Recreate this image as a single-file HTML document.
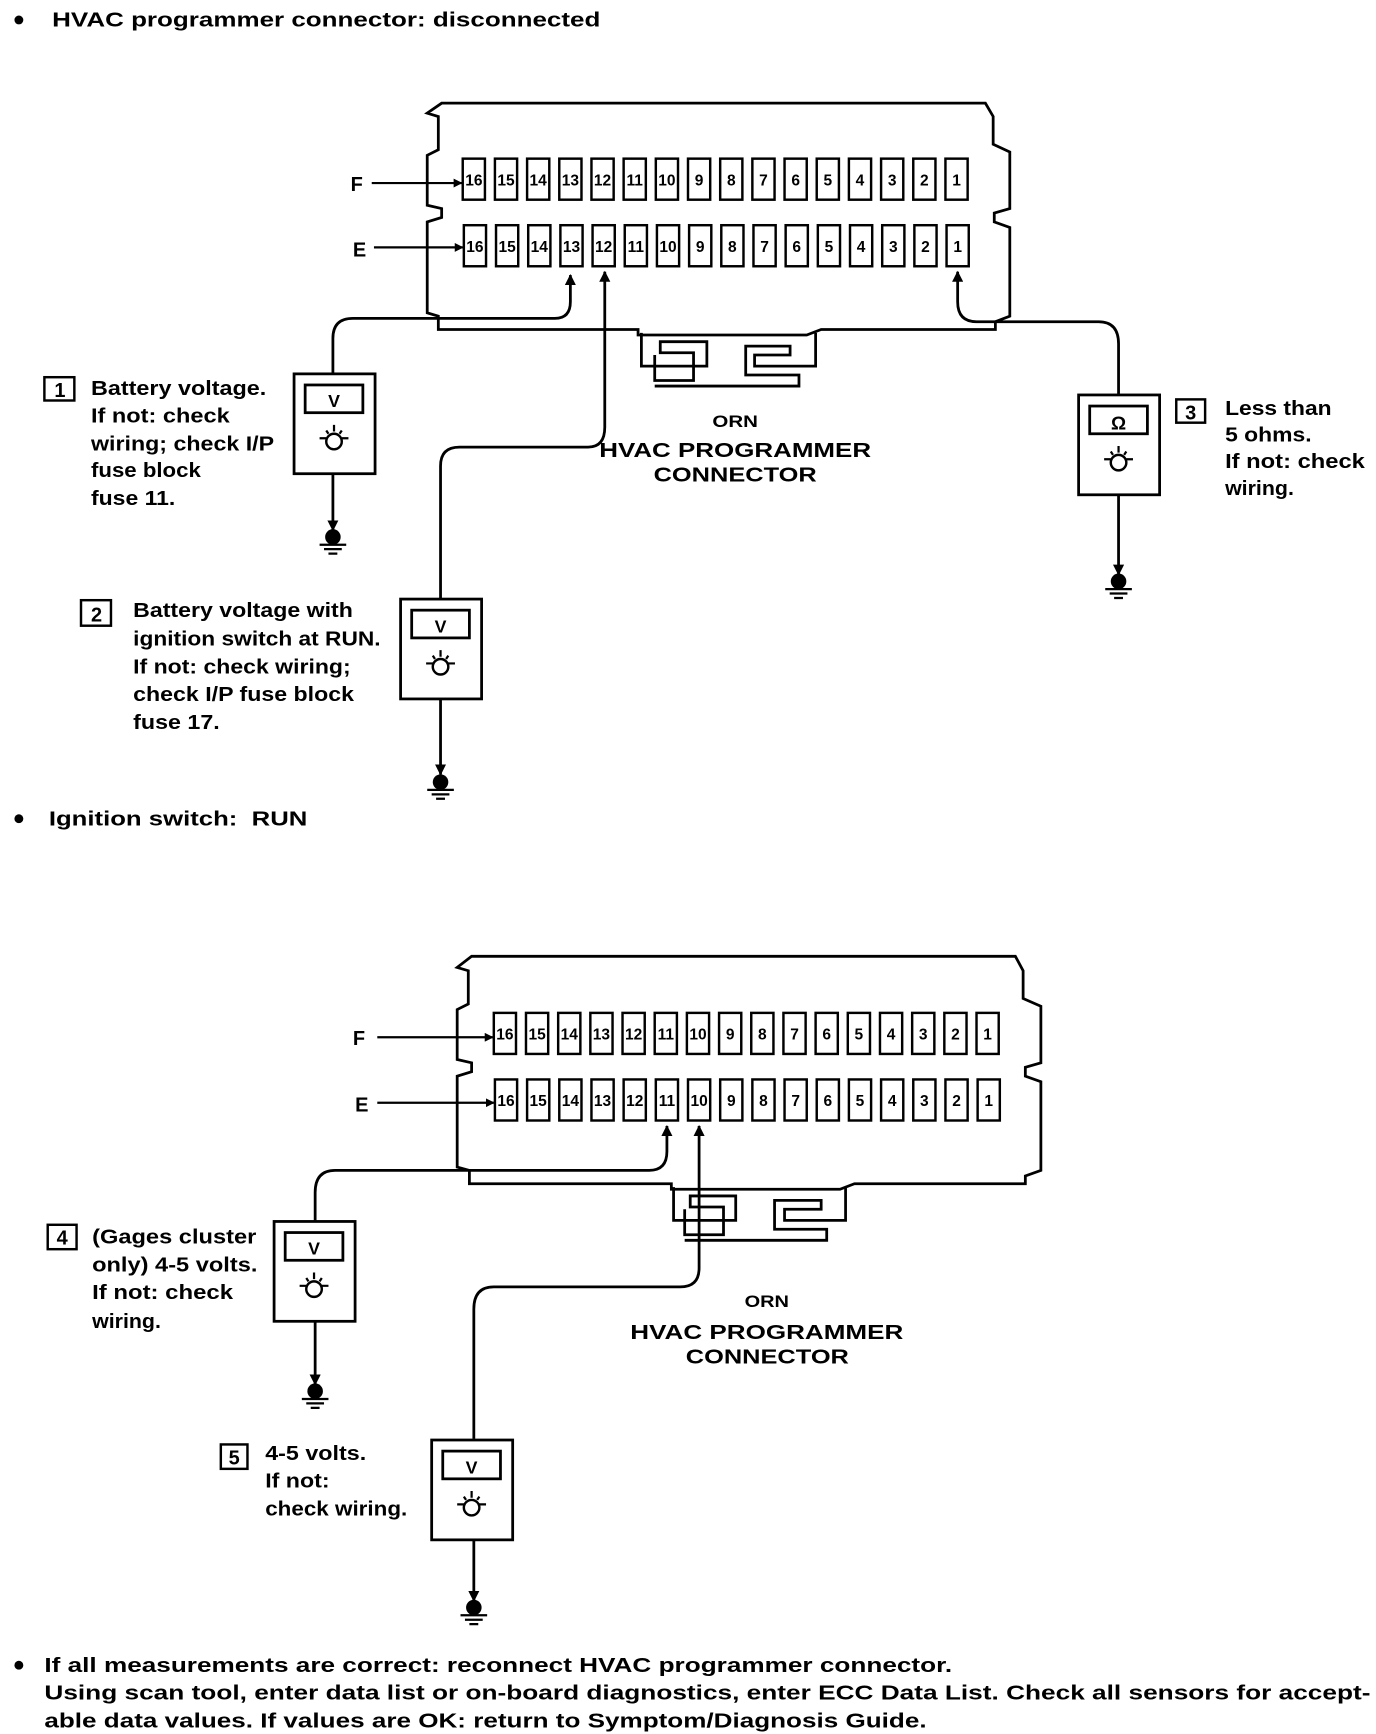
<!DOCTYPE html>
<html><head><meta charset="utf-8"><style>
html,body{margin:0;padding:0;background:#fff}
svg{display:block}
text{font-family:"Liberation Sans",sans-serif;font-weight:bold;fill:#000}
.t{font-size:18px}
.p{font-size:14px;text-anchor:middle}
.c{text-anchor:middle}
</style></head><body>
<svg width="1376" height="1734" viewBox="0 0 1240 1563" preserveAspectRatio="none" xmlns="http://www.w3.org/2000/svg">
<defs>
<marker id="ah" viewBox="0 0 10 10" refX="9" refY="5" markerWidth="4" markerHeight="4" orient="auto"><path d="M0,0 L10,5 L0,10 z" fill="#000"/></marker>
<g id="meter">
<rect x="0" y="0" width="73" height="90" fill="#fff" stroke="#000" stroke-width="2.5"/>
<rect x="10" y="10" width="52" height="25" fill="none" stroke="#000" stroke-width="2.5"/>
<circle cx="36" cy="61" r="7" fill="none" stroke="#000" stroke-width="2.2"/>
<path d="M23,58 H29 M43,58 H49 M36,46 V52 M29,51 L31,54 M43,51 L41,54" stroke="#000" stroke-width="2"/>
</g>
<g id="gnd">
<circle cx="0" cy="0" r="7" fill="#000"/>
<path d="M-12,7 H12 M-8,11 H8 M-4,15 H4" stroke="#000" stroke-width="2"/>
</g>
</defs>

<g fill="none" stroke="#000" stroke-width="2.5">
<path d="M398,93 H888 L895,105 V130 L910,137 V188 L896,192 V200 L910,205 V285 L897,290 V297 H740 L727,302 H575 V297 H395 V285 L385,282 V200 L398,196 V188 L385,185 V140 L395,135 V105 L385,102 Z"/>
<path d="M578,300 V330 H637 V308 H595 V318 H625 V343 H590 V320"/>
<path d="M735,300 V330 H680 V320 H712 V312 H672 V338 H720 V348 H590"/>
<path d="M425,862 H915 L922,875 V900 L938,907 V958 L924,962 V970 L938,975 V1055 L924,1060 V1067 H770 L757,1072 H605 V1067 H423 V1055 L412,1052 V970 L425,966 V958 L412,955 V910 L422,905 V875 L412,872 Z"/>
<path d="M607,1070 V1100 H663 V1078 H622 V1088 H652 V1113 H617 V1090"/>
<path d="M762,1070 V1100 H707 V1090 H740 V1082 H698 V1108 H745 V1118 H617"/>
</g>

<g fill="#fff" stroke="#000" stroke-width="2.2">
<rect x="417" y="143" width="20" height="37"/><rect x="446" y="143" width="20" height="37"/><rect x="475" y="143" width="20" height="37"/><rect x="504" y="143" width="20" height="37"/><rect x="533" y="143" width="20" height="37"/><rect x="562" y="143" width="20" height="37"/><rect x="591" y="143" width="20" height="37"/><rect x="620" y="143" width="20" height="37"/><rect x="649" y="143" width="20" height="37"/><rect x="678" y="143" width="20" height="37"/><rect x="707" y="143" width="20" height="37"/><rect x="736" y="143" width="20" height="37"/><rect x="765" y="143" width="20" height="37"/><rect x="794" y="143" width="20" height="37"/><rect x="823" y="143" width="20" height="37"/><rect x="852" y="143" width="20" height="37"/>
<rect x="418" y="203" width="20" height="37"/><rect x="447" y="203" width="20" height="37"/><rect x="476" y="203" width="20" height="37"/><rect x="505" y="203" width="20" height="37"/><rect x="534" y="203" width="20" height="37"/><rect x="563" y="203" width="20" height="37"/><rect x="592" y="203" width="20" height="37"/><rect x="621" y="203" width="20" height="37"/><rect x="650" y="203" width="20" height="37"/><rect x="679" y="203" width="20" height="37"/><rect x="708" y="203" width="20" height="37"/><rect x="737" y="203" width="20" height="37"/><rect x="766" y="203" width="20" height="37"/><rect x="795" y="203" width="20" height="37"/><rect x="824" y="203" width="20" height="37"/><rect x="853" y="203" width="20" height="37"/>
<rect x="445" y="913" width="20" height="37"/><rect x="474" y="913" width="20" height="37"/><rect x="503" y="913" width="20" height="37"/><rect x="532" y="913" width="20" height="37"/><rect x="561" y="913" width="20" height="37"/><rect x="590" y="913" width="20" height="37"/><rect x="619" y="913" width="20" height="37"/><rect x="648" y="913" width="20" height="37"/><rect x="677" y="913" width="20" height="37"/><rect x="706" y="913" width="20" height="37"/><rect x="735" y="913" width="20" height="37"/><rect x="764" y="913" width="20" height="37"/><rect x="793" y="913" width="20" height="37"/><rect x="822" y="913" width="20" height="37"/><rect x="851" y="913" width="20" height="37"/><rect x="880" y="913" width="20" height="37"/>
<rect x="446" y="973" width="20" height="37"/><rect x="475" y="973" width="20" height="37"/><rect x="504" y="973" width="20" height="37"/><rect x="533" y="973" width="20" height="37"/><rect x="562" y="973" width="20" height="37"/><rect x="591" y="973" width="20" height="37"/><rect x="620" y="973" width="20" height="37"/><rect x="649" y="973" width="20" height="37"/><rect x="678" y="973" width="20" height="37"/><rect x="707" y="973" width="20" height="37"/><rect x="736" y="973" width="20" height="37"/><rect x="765" y="973" width="20" height="37"/><rect x="794" y="973" width="20" height="37"/><rect x="823" y="973" width="20" height="37"/><rect x="852" y="973" width="20" height="37"/><rect x="881" y="973" width="20" height="37"/>
</g>
<g class="p">
<text class="p" x="427" y="167">16</text><text class="p" x="456" y="167">15</text><text class="p" x="485" y="167">14</text><text class="p" x="514" y="167">13</text><text class="p" x="543" y="167">12</text><text class="p" x="572" y="167">11</text><text class="p" x="601" y="167">10</text><text class="p" x="630" y="167">9</text><text class="p" x="659" y="167">8</text><text class="p" x="688" y="167">7</text><text class="p" x="717" y="167">6</text><text class="p" x="746" y="167">5</text><text class="p" x="775" y="167">4</text><text class="p" x="804" y="167">3</text><text class="p" x="833" y="167">2</text><text class="p" x="862" y="167">1</text>
<text class="p" x="428" y="227">16</text><text class="p" x="457" y="227">15</text><text class="p" x="486" y="227">14</text><text class="p" x="515" y="227">13</text><text class="p" x="544" y="227">12</text><text class="p" x="573" y="227">11</text><text class="p" x="602" y="227">10</text><text class="p" x="631" y="227">9</text><text class="p" x="660" y="227">8</text><text class="p" x="689" y="227">7</text><text class="p" x="718" y="227">6</text><text class="p" x="747" y="227">5</text><text class="p" x="776" y="227">4</text><text class="p" x="805" y="227">3</text><text class="p" x="834" y="227">2</text><text class="p" x="863" y="227">1</text>
<text class="p" x="455" y="937">16</text><text class="p" x="484" y="937">15</text><text class="p" x="513" y="937">14</text><text class="p" x="542" y="937">13</text><text class="p" x="571" y="937">12</text><text class="p" x="600" y="937">11</text><text class="p" x="629" y="937">10</text><text class="p" x="658" y="937">9</text><text class="p" x="687" y="937">8</text><text class="p" x="716" y="937">7</text><text class="p" x="745" y="937">6</text><text class="p" x="774" y="937">5</text><text class="p" x="803" y="937">4</text><text class="p" x="832" y="937">3</text><text class="p" x="861" y="937">2</text><text class="p" x="890" y="937">1</text>
<text class="p" x="456" y="997">16</text><text class="p" x="485" y="997">15</text><text class="p" x="514" y="997">14</text><text class="p" x="543" y="997">13</text><text class="p" x="572" y="997">12</text><text class="p" x="601" y="997">11</text><text class="p" x="630" y="997">10</text><text class="p" x="659" y="997">9</text><text class="p" x="688" y="997">8</text><text class="p" x="717" y="997">7</text><text class="p" x="746" y="997">6</text><text class="p" x="775" y="997">5</text><text class="p" x="804" y="997">4</text><text class="p" x="833" y="997">3</text><text class="p" x="862" y="997">2</text><text class="p" x="891" y="997">1</text>
</g>

<text class="t" x="316" y="172">F</text><text class="t" x="318" y="231">E</text>
<text class="t" x="318" y="942">F</text><text class="t" x="320" y="1002">E</text>
<g stroke="#000" stroke-width="2" fill="none" marker-end="url(#ah)">
<path d="M335,165 H416"/><path d="M337,223 H417"/>
<path d="M340,935 H444"/><path d="M340,994 H445"/>
</g>

<g stroke="#000" stroke-width="2.5" fill="none">
<path d="M300,337 V305 Q300,287 318,287 H500 Q514,287 514,272 V248" marker-end="url(#ah)"/>
<path d="M397,540 V420 Q397,403 414,403 H530 Q545,403 545,385 V245" marker-end="url(#ah)"/>
<path d="M1008,355 V310 Q1008,290 990,290 H880 Q863,290 863,272 V245" marker-end="url(#ah)"/>
<path d="M300,427 V478" marker-end="url(#ah)"/>
<path d="M397,630 V698" marker-end="url(#ah)"/>
<path d="M1008,447 V518" marker-end="url(#ah)"/>
<path d="M284,1100 V1075 Q284,1055 302,1055 H585 Q601,1055 601,1038 V1015" marker-end="url(#ah)"/>
<path d="M427,1297 V1180 Q427,1160 445,1160 H613 Q630,1160 630,1143 V1015" marker-end="url(#ah)"/>
<path d="M284,1192 V1248" marker-end="url(#ah)"/>
<path d="M427,1388 V1443" marker-end="url(#ah)"/>
</g>

<use href="#meter" x="265" y="337"/>
<use href="#meter" x="361" y="540"/>
<use href="#meter" x="972" y="356"/>
<use href="#meter" x="247" y="1101"/>
<use href="#meter" x="389" y="1298"/>
<text class="t c" x="301" y="367" style="font-size:16px">V</text>
<text class="t c" x="397" y="570" style="font-size:16px">V</text>
<text class="t c" x="1008" y="387" style="font-size:17px">Ω</text>
<text class="t c" x="283" y="1131" style="font-size:16px">V</text>
<text class="t c" x="425" y="1328" style="font-size:16px">V</text>

<use href="#gnd" x="300" y="484"/>
<use href="#gnd" x="397" y="705"/>
<use href="#gnd" x="1008" y="524"/>
<use href="#gnd" x="284" y="1254"/>
<use href="#gnd" x="427" y="1449"/>

<g fill="none" stroke="#000" stroke-width="2.2">
<rect x="40" y="340" width="27" height="21"/>
<rect x="73" y="541" width="27" height="23"/>
<rect x="1060" y="360" width="26" height="21"/>
<rect x="43" y="1104" width="26" height="22"/>
<rect x="199" y="1302" width="24" height="22"/>
</g>
<text class="t c" x="54" y="358">1</text>
<text class="t c" x="87" y="560">2</text>
<text class="t c" x="1073" y="378">3</text>
<text class="t c" x="56" y="1122">4</text>
<text class="t c" x="211" y="1320">5</text>

<g fill="#000">
<circle cx="17" cy="18" r="4"/><circle cx="17" cy="738" r="4"/><circle cx="17" cy="1501" r="4"/>
</g>
<g class="t">
<text x="47" y="24" textLength="494" lengthAdjust="spacingAndGlyphs">HVAC programmer connector: disconnected</text>
<text x="82" y="356" textLength="158" lengthAdjust="spacingAndGlyphs">Battery voltage.</text>
<text x="82" y="381" textLength="125" lengthAdjust="spacingAndGlyphs">If not: check</text>
<text x="82" y="406" textLength="165" lengthAdjust="spacingAndGlyphs">wiring; check I/P</text>
<text x="82" y="430" textLength="99" lengthAdjust="spacingAndGlyphs">fuse block</text>
<text x="82" y="455" textLength="76" lengthAdjust="spacingAndGlyphs">fuse 11.</text>
<text x="120" y="556" textLength="198" lengthAdjust="spacingAndGlyphs">Battery voltage with</text>
<text x="120" y="582" textLength="223" lengthAdjust="spacingAndGlyphs">ignition switch at RUN.</text>
<text x="120" y="607" textLength="196" lengthAdjust="spacingAndGlyphs">If not: check wiring;</text>
<text x="120" y="632" textLength="199" lengthAdjust="spacingAndGlyphs">check I/P fuse block</text>
<text x="120" y="657" textLength="78" lengthAdjust="spacingAndGlyphs">fuse 17.</text>
<text x="1104" y="374" textLength="96" lengthAdjust="spacingAndGlyphs">Less than</text>
<text x="1104" y="398" textLength="78" lengthAdjust="spacingAndGlyphs">5 ohms.</text>
<text x="1104" y="422" textLength="126" lengthAdjust="spacingAndGlyphs">If not: check</text>
<text x="1104" y="446" textLength="62" lengthAdjust="spacingAndGlyphs">wiring.</text>
<text x="44" y="744" textLength="233" lengthAdjust="spacingAndGlyphs">Ignition switch:&#160; RUN</text>
<text x="83" y="1121" textLength="148" lengthAdjust="spacingAndGlyphs">(Gages cluster</text>
<text x="83" y="1146" textLength="149" lengthAdjust="spacingAndGlyphs">only) 4-5 volts.</text>
<text x="83" y="1171" textLength="127" lengthAdjust="spacingAndGlyphs">If not: check</text>
<text x="83" y="1197" textLength="62" lengthAdjust="spacingAndGlyphs">wiring.</text>
<text x="239" y="1316" textLength="91" lengthAdjust="spacingAndGlyphs">4-5 volts.</text>
<text x="239" y="1341" textLength="58" lengthAdjust="spacingAndGlyphs">If not:</text>
<text x="239" y="1366" textLength="128" lengthAdjust="spacingAndGlyphs">check wiring.</text>
<text x="40" y="1507" textLength="818" lengthAdjust="spacingAndGlyphs">If all measurements are correct: reconnect HVAC programmer connector.</text>
<text x="40" y="1532" textLength="1195" lengthAdjust="spacingAndGlyphs">Using scan tool, enter data list or on-board diagnostics, enter ECC Data List. Check all sensors for accept-</text>
<text x="40" y="1557" textLength="795" lengthAdjust="spacingAndGlyphs">able data values. If values are OK: return to Symptom/Diagnosis Guide.</text>
</g>
<text x="642" y="385" style="font-size:15px" textLength="41" lengthAdjust="spacingAndGlyphs">ORN</text>
<text class="t" x="540" y="412" textLength="245" lengthAdjust="spacingAndGlyphs">HVAC PROGRAMMER</text>
<text class="t" x="589" y="434" textLength="147" lengthAdjust="spacingAndGlyphs">CONNECTOR</text>
<text x="671" y="1178" style="font-size:15px" textLength="40" lengthAdjust="spacingAndGlyphs">ORN</text>
<text class="t" x="568" y="1207" textLength="246" lengthAdjust="spacingAndGlyphs">HVAC PROGRAMMER</text>
<text class="t" x="618" y="1229" textLength="147" lengthAdjust="spacingAndGlyphs">CONNECTOR</text>
</svg>
</body></html>
